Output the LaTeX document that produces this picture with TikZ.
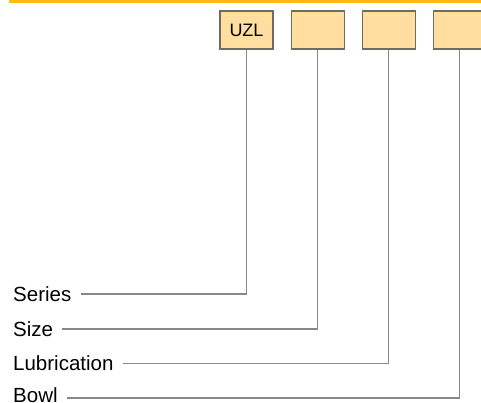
\documentclass[tikz,border=0pt]{standalone}
\usepackage{fontspec}
\setmainfont{Liberation Sans}
\usepackage{tikz}
\usetikzlibrary{positioning}

\definecolor{barorange}{RGB}{253,186,19}
\definecolor{boxfill}{RGB}{255,222,160}
\definecolor{boxline}{RGB}{112,106,96}
\definecolor{leadgray}{RGB}{136,136,136}

\begin{document}
\begin{tikzpicture}[x=1pt, y=-1pt]
\tikzstyle{codebox} = [rectangle, draw=boxline, fill=boxfill, line width=1.1pt,
  minimum width=53pt, minimum height=38pt, inner sep=0pt,
  font=\fontsize{18}{20}\selectfont]
\tikzstyle{label} = [anchor=west, inner sep=0pt, text height=14pt, text depth=0pt,
  font=\fontsize{20.5}{22}\selectfont]
\tikzstyle{lead} = [draw=leadgray, line width=1.3pt]

\useasboundingbox (0,0) rectangle (481,402);

% top rule
\fill[barorange] (9,0) rectangle (481,3);

% order code boxes
\node[codebox] (series box) at (246.5,30) {UZL};
\node[codebox, right=17pt of series box] (size box) {};
\node[codebox, right=17pt of size box] (lube box) {};
\node[codebox, right=17pt of lube box] (bowl box) {};

% labels
\node[label] (series) at (13,294) {Series};
\node[label] (size) at (13,329) {Size};
\node[label] (lube) at (13,363.5) {Lubrication};
\node[label] (bowl) at (13,395) {Bowl};

\draw[lead] ([xshift=9pt]series.east) -| (series box.south);
\draw[lead] ([xshift=9pt]size.east) -| (size box.south);
\draw[lead] ([xshift=9pt]lube.east) -| (lube box.south);
\draw[lead] ([xshift=9pt,yshift=-3pt]bowl.east) -| (bowl box.south);
\end{tikzpicture}
\end{document}
